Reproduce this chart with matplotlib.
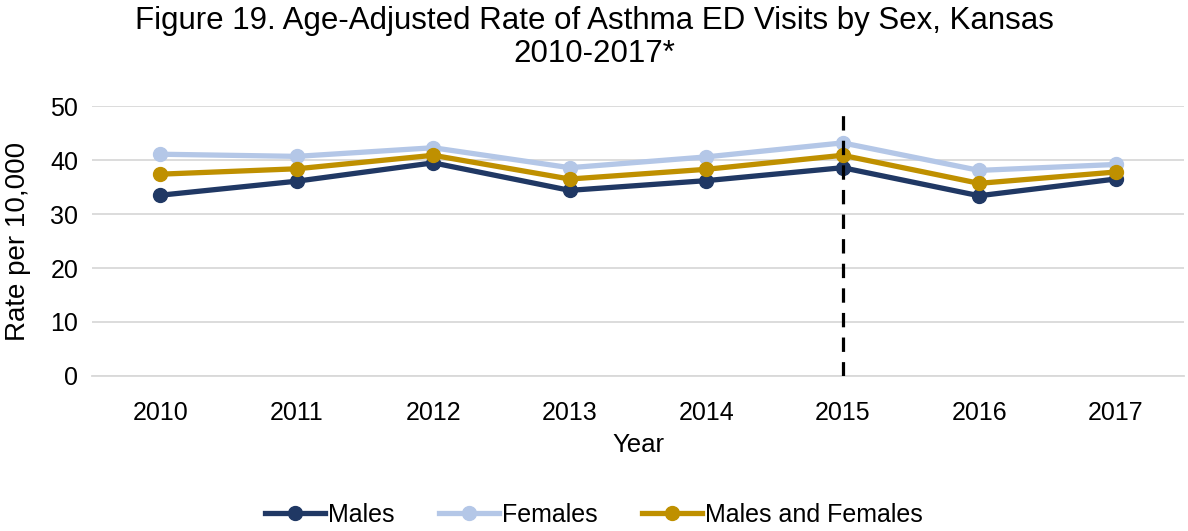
import matplotlib
matplotlib.use('Agg')
import matplotlib.pyplot as plt
import numpy as np

plt.rcParams['font.family'] = ['Liberation Sans', 'DejaVu Sans']

years = ['2010', '2011', '2012', '2013', '2014', '2015', '2016', '2017']
males = [33.5, 36.1, 39.5, 34.4, 36.2, 38.6, 33.4, 36.5]
females = [41.1, 40.7, 42.3, 38.6, 40.6, 43.2, 38.1, 39.2]
both = [37.4, 38.4, 40.9, 36.5, 38.3, 40.9, 35.7, 37.8]

fig = plt.figure(figsize=(11.88, 5.31), dpi=100)
ax = fig.add_axes([0.0775, 0.292, 0.919, 0.508])

x = np.arange(len(years))
# Linien zeichnen
ax.plot(x, males, color='#203864', lw=3.8, marker='o', ms=10, label='Males', zorder=3)
ax.plot(x, females, color='#b4c7e7', lw=3.8, marker='o', ms=10, label='Females', zorder=3)
ax.plot(x, both, color='#bf9000', lw=3.8, marker='o', ms=10, label='Males and Females', zorder=4)

ax.axvline(years.index('2015'), color='black', lw=2.3, ls=(0, (4.5, 3.2)), zorder=5)

ax.set_xlim(-0.5, len(years) - 0.5)
ax.set_ylim(0, 50)
ax.set_yticks(range(0, 51, 10))
ax.set_xticks(x)
ax.set_xticklabels(years)
ax.grid(axis='y', color='#d9d9d9', lw=1.3)
ax.set_axisbelow(True)
for s in ['top', 'right', 'left']:
    ax.spines[s].set_visible(False)
ax.spines['bottom'].set_color('#d9d9d9')
ax.spines['bottom'].set_linewidth(1.3)
ax.tick_params(axis='both', length=0, labelsize=18, pad=10)
ax.tick_params(axis='x', pad=18)

ax.set_xlabel('Year', fontsize=18.5, labelpad=6)
ax.set_ylabel('Rate per 10,000', fontsize=20, labelpad=14)
fig.suptitle('Figure 19. Age-Adjusted Rate of Asthma ED Visits by Sex, Kansas\n2010-2017*',
             fontsize=22.5, y=0.988, linespacing=1.1)

fig.legend(loc='lower center', bbox_to_anchor=(0.5, -0.035), ncol=3, frameon=False,
           fontsize=18, handlelength=2.4, handletextpad=0.1, columnspacing=1.8)

fig.savefig('out.png', dpi=100)
